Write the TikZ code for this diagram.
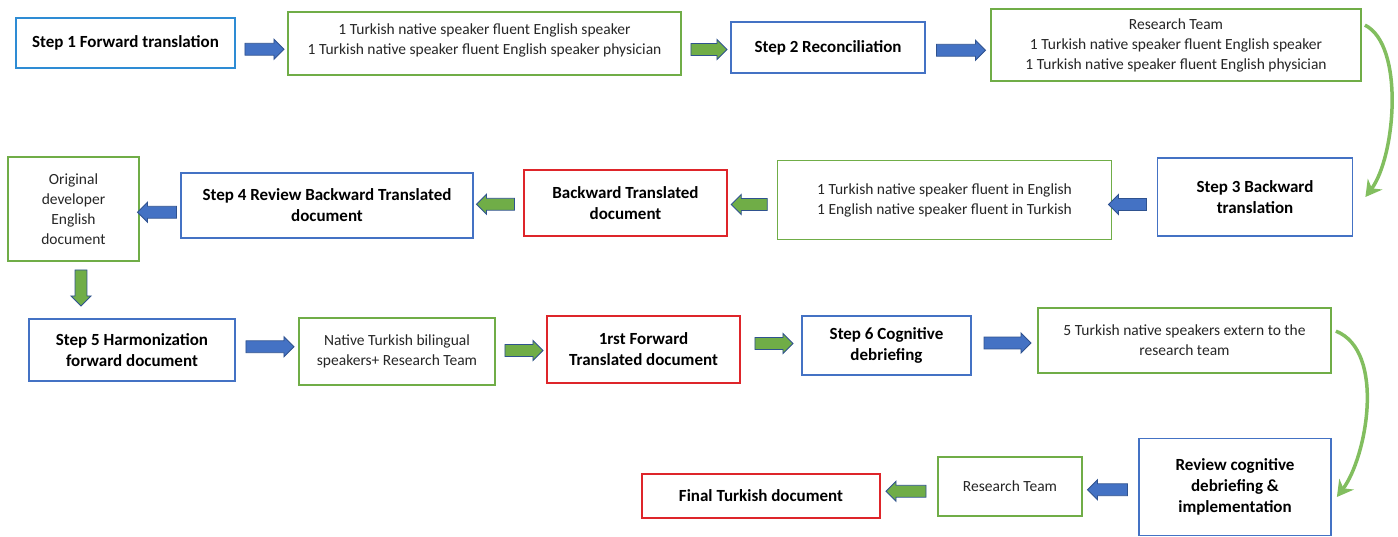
\documentclass[tikz,border=0pt]{standalone}
\usepackage{fontspec}
\setmainfont{Carlito}
\usetikzlibrary{shapes.arrows,arrows.meta}
\definecolor{stepblue}{RGB}{68,114,196}
\definecolor{firstblue}{RGB}{46,140,212}
\definecolor{teamgreen}{RGB}{112,173,71}
\definecolor{docred}{RGB}{222,37,42}
\definecolor{arrowedge}{RGB}{47,82,143}
\definecolor{curvegreen}{RGB}{130,190,95}
\begin{document}
\begin{tikzpicture}[x=1pt,y=-1pt,
        box/.style={draw, line width=1.8pt, fill=white, align=center, inner sep=0pt, text=black!85, font=\fontsize{15.5}{20}\selectfont},
        sz/.style 2 args={minimum width=#1pt, minimum height=#2pt},
        stepbox/.style={box, draw=stepblue, text=black, font=\fontsize{17}{21}\selectfont\bfseries},
        teambox/.style={box, draw=teamgreen},
        docbox/.style={box, draw=docred, text=black, font=\fontsize{17}{21}\selectfont\bfseries},
        barrow/.style={single arrow, draw=arrowedge, fill=stepblue, line width=0.9pt, inner xsep=0pt, inner ysep=5.5pt, minimum width=20pt, single arrow head extend=4pt, minimum height=#1pt},
        garrow/.style={barrow=#1, fill=teamgreen},
        toleft/.style={shape border rotate=180},
        todown/.style={shape border rotate=270, inner xsep=5.5pt, inner ysep=0pt},
        bendarrow/.style={draw=curvegreen, line width=3.5pt, -{Stealth[length=16pt,width=18pt]}}
    ]
    \useasboundingbox (0,0) rectangle (1398,536);
    % first row
    \node[stepbox, draw=firstblue, sz={219}{50}] (s1) at (125.5,43) {Step 1 Forward translation};
    \node[teambox, sz={393}{63}] (fw) at (484.5,43.5) {1 Turkish native speaker fluent English speaker\\1 Turkish native speaker fluent English speaker physician\\[-11pt]};
    \node[stepbox, sz={194}{51}] (s2) at (828,47.5) {Step 2 Reconciliation};
    \node[teambox, sz={370}{72}] (rc) at (1176,45) {Research Team\\1 Turkish native speaker fluent English speaker\\1 Turkish native speaker fluent English physician};
    % second row
    \node[stepbox, sz={195}{78}] (s3) at (1255,197) {Step 3 Backward\\translation};
    \node[teambox, sz={334}{79}] (bw) at (944.5,200) {1 Turkish native speaker fluent in English\\1 English native speaker fluent in Turkish};
    \node[docbox, sz={203}{66}] (btd) at (625.5,203) {Backward Translated\\document};
    \node[stepbox, sz={292}{65}] (s4) at (327,205.5) {Step 4 Review Backward Translated\\document};
    \node[teambox, sz={131}{104}] (orig) at (73.5,209) {Original\\developer\\English\\document};
    % third row
    \node[stepbox, sz={206}{62}] (s5) at (132,350) {Step 5 Harmonization\\forward document};
    \node[teambox, sz={196}{67}] (hm) at (397,351.5) {Native Turkish bilingual\\speakers+ Research Team};
    \node[docbox, sz={193}{67}] (ftd) at (643.5,349.5) {1rst Forward\\Translated document};
    \node[stepbox, sz={169}{59}] (s6) at (886.5,345.5) {Step 6 Cognitive\\debriefing};
    \node[teambox, sz={293}{65}] (cd) at (1184.5,340.5) {5 Turkish native speakers extern to the\\research team};
    % last row
    \node[stepbox, sz={192}{97}] (rv) at (1235,487) {Review cognitive\\debriefing \&\\implementation};
    \node[teambox, sz={144}{59}] (rt) at (1010,486.5) {Research Team};
    \node[docbox, sz={238}{44}] (fin) at (761,496) {Final Turkish document};
    % block arrows
    \path (s1.east) -- (fw.west) node[midway, yshift=-6pt, barrow=39] (a1) {};
    \path (fw.east) -- (s2.west) node[midway, yshift=-4pt, garrow=36] (a2) {};
    \path (s2.east) -- (rc.west) node[midway, yshift=-4pt, barrow=49] (a3) {};
    \path (s3.west) -- (bw.east) node[midway, xshift=-4pt, yshift=-6pt, barrow=38, toleft] (a4) {};
    \path (bw.west) -- (btd.east) node[midway, yshift=-3pt, garrow=36, toleft] (a5) {};
    \path (btd.west) -- (s4.east) node[midway, garrow=38, toleft] (a6) {};
    \path (s4.west) -- (orig.east) node[midway, yshift=-5pt, barrow=39, toleft] (a7) {};
    \path (orig.south) -- (orig.south |- s5.north) node[midway, xshift=7.5pt, yshift=5pt, garrow=36, todown] (a8) {};
    \path (s5.east) -- (hm.west) node[midway, yshift=4pt, barrow=48] (a9) {};
    \path (hm.east) -- (ftd.west) node[midway, garrow=38] (a10) {};
    \path (ftd.east) -- (s6.west) node[midway, yshift=4pt, garrow=38] (a11) {};
    \path (s6.east) -- (cd.west) node[midway, barrow=47] (a12) {};
    \path (rv.west) -- (rt.east) node[midway, yshift=-3pt, barrow=40, toleft] (a13) {};
    \path (rt.west) -- (fin.east) node[midway, garrow=40, toleft] (a14) {};
    % curved arrows
    \draw[bendarrow] ([xshift=3pt,yshift=-17pt]rc.north east) .. controls +(40,20) and +(30,-40) .. ([xshift=12pt]s3.east);
    \draw[bendarrow] ([xshift=4pt,yshift=-24pt]cd.north east) .. controls +(50,20) and +(30,-40) .. ([xshift=5pt,yshift=-10pt]rv.east);
\end{tikzpicture}
\end{document}
